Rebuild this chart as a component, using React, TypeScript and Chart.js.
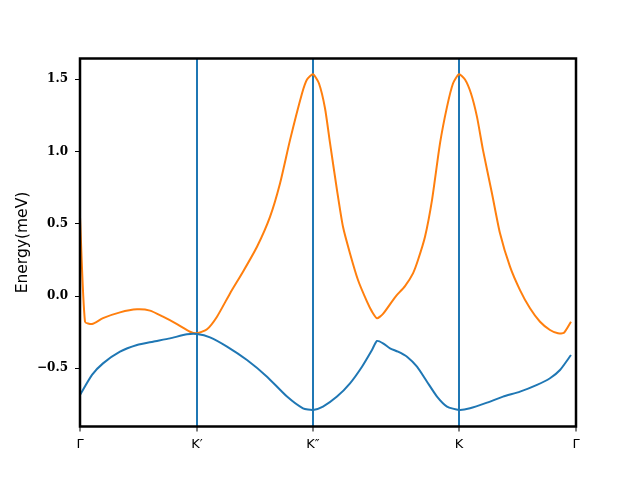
import React, { useEffect, useRef } from "react";
import { Chart, registerables } from "chart.js";

Chart.register(...registerables);

// High-symmetry path positions and labels
const kPoints = [0, 117, 233, 379, 496];
const kLabels = ["Γ", "K′", "K″", "K", "Γ"];
const yTicks = [-0.5, 0.0, 0.5, 1.0, 1.5];

// Upper band (orange)
const kUpper = [0, 5, 12, 23, 40, 57, 70, 83, 97, 110, 117, 127, 137, 150, 163, 177, 190, 200, 210, 222, 227, 233, 239, 245, 250, 257, 263, 270, 278, 287, 292, 297, 303, 315, 325, 333, 338, 345, 352, 360, 367, 373, 379, 385, 391, 397, 403, 412, 420, 430, 440, 450, 460, 470, 478, 484, 491];
const eUpper = [0.548, -0.178, -0.194, -0.153, -0.113, -0.092, -0.101, -0.143, -0.194, -0.247, -0.258, -0.23, -0.143, 0.018, 0.168, 0.341, 0.548, 0.779, 1.079, 1.402, 1.499, 1.535, 1.471, 1.3, 1.06, 0.733, 0.479, 0.295, 0.111, -0.039, -0.108, -0.154, -0.124, -0.009, 0.069, 0.157, 0.249, 0.41, 0.664, 1.056, 1.309, 1.471, 1.535, 1.499, 1.402, 1.24, 1.01, 0.71, 0.434, 0.203, 0.041, -0.085, -0.178, -0.235, -0.258, -0.254, -0.178];

// Lower band (blue)
const kLower = [0, 12, 23, 40, 57, 73, 90, 107, 117, 130, 147, 167, 187, 207, 223, 233, 243, 257, 270, 282, 292, 297, 303, 310, 318, 327, 337, 347, 357, 367, 379, 390, 407, 423, 440, 457, 470, 480, 491];
const eLower = [-0.685, -0.546, -0.466, -0.385, -0.339, -0.316, -0.293, -0.265, -0.263, -0.286, -0.35, -0.443, -0.558, -0.696, -0.777, -0.788, -0.765, -0.696, -0.604, -0.489, -0.373, -0.311, -0.327, -0.362, -0.385, -0.42, -0.489, -0.593, -0.696, -0.765, -0.788, -0.777, -0.738, -0.696, -0.662, -0.615, -0.569, -0.512, -0.408];

const BLUE = "#1f77b4";
const ORANGE = "#ff7f0e";

const framePlugin = {
  id: "frame",
  afterDraw(chart: any) {
    const { ctx, chartArea } = chart;
    const { left, top, right, bottom } = chartArea;
    ctx.save();
    ctx.strokeStyle = "#000";
    ctx.lineWidth = 2.5;
    ctx.strokeRect(left, top, right - left, bottom - top);
    ctx.restore();
  },
};

export default function App() {
  const ref = useRef<HTMLCanvasElement | null>(null);

  useEffect(() => {
    if (!ref.current) return;
    const chart = new Chart(ref.current, {
      type: "line",
      data: {
        datasets: [
          {
            data: kLower.map((k, i) => ({ x: k, y: eLower[i] })),
            borderColor: BLUE,
            borderWidth: 2,
            pointRadius: 0,
            tension: 0.2,
            fill: false,
          },
          {
            data: kUpper.map((k, i) => ({ x: k, y: eUpper[i] })),
            borderColor: ORANGE,
            borderWidth: 2,
            pointRadius: 0,
            tension: 0.2,
            fill: false,
          },
        ],
      },
      plugins: [framePlugin],
      options: {
        responsive: false,
        animation: false,
        events: [],
        layout: { padding: { left: 0, top: 58.5, right: 64, bottom: 0 } },
        plugins: {
          legend: { display: false },
          tooltip: { enabled: false },
          title: { display: false },
        },
        scales: {
          x: {
            type: "linear",
            min: kPoints[0],
            max: kPoints[kPoints.length - 1],
            afterBuildTicks: (scale: any) => {
              scale.ticks = kPoints.map((v) => ({ value: v }));
            },
            afterFit: (scale: any) => {
              scale.height = 53.5;
            },
            border: { display: false },
            grid: {
              display: true,
              drawOnChartArea: true,
              color: (ctx: any) =>
                ctx.index === 0 || ctx.index === kPoints.length - 1 ? "rgba(0,0,0,0)" : BLUE,
              lineWidth: 2,
              tickColor: "#000",
              tickLength: 5,
              tickWidth: 1,
            },
            ticks: {
              autoSkip: false,
              maxRotation: 0,
              padding: 5,
              color: "#000",
              font: { family: "'DejaVu Sans'", size: 13 },
              callback: (_v: any, i: number) => kLabels[i],
            },
          },
          y: {
            type: "linear",
            min: -0.903,
            max: 1.644,
            afterBuildTicks: (scale: any) => {
              scale.ticks = yTicks.map((v) => ({ value: v }));
            },
            afterFit: (scale: any) => {
              scale.width = 80;
            },
            border: { display: false },
            grid: {
              display: true,
              drawOnChartArea: false,
              tickColor: "#000",
              tickLength: 5,
              tickWidth: 1,
            },
            ticks: {
              padding: 7,
              color: "#000",
              font: { family: "'DejaVu Serif'", size: 12, weight: "bold" },
              callback: (v: any) => Number(v).toFixed(1).replace("-", "\u2212"),
            },
            title: {
              display: true,
              text: "Energy(meV)",
              color: "#000",
              font: { family: "'DejaVu Sans'", size: 15.5 },
              padding: { top: 14, bottom: 0 },
            },
          },
        },
      },
    });
    return () => chart.destroy();
  }, []);

  return (
    <div style={{ position: "fixed", left: 0, top: 0, width: 640, height: 480, background: "#fff" }}>
      <canvas ref={ref} width={640} height={480} />
    </div>
  );
}
